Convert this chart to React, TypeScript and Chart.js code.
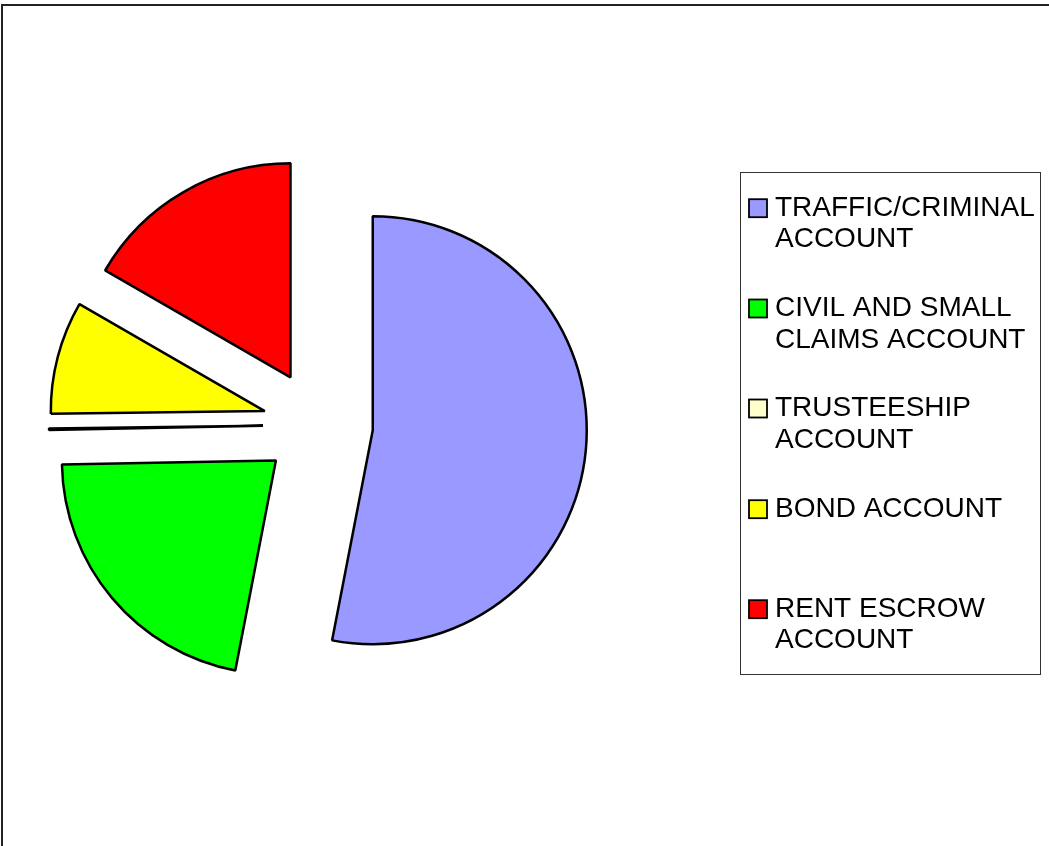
import React, { useEffect, useRef } from "react";
import { Chart, registerables } from "chart.js";

Chart.register(...registerables);

const categories: string[][] = [
  ["TRAFFIC/CRIMINAL", "ACCOUNT"],
  ["CIVIL AND SMALL", "CLAIMS ACCOUNT"],
  ["TRUSTEESHIP", "ACCOUNT"],
  ["BOND ACCOUNT"],
  ["RENT ESCROW", "ACCOUNT"],
];
const shares: number[] = [53.04, 21.66, 0.1, 8.53, 16.67];
const colors: string[] = ["#9999FF", "#00FF00", "#FFFFCC", "#FFFF00", "#FF0000"];

const explodePlugin = {
  id: "explode",
  beforeDatasetDraw(chart: any, args: any, opts: any) {
    const ctx = chart.ctx;
    const dist = opts.distance || 0;
    args.meta.data.forEach((arc: any) => {
      const mid = (arc.startAngle + arc.endAngle) / 2;
      ctx.save();
      ctx.translate(Math.cos(mid) * dist, Math.sin(mid) * dist);
      arc.draw(ctx);
      ctx.restore();
    });
    return false;
  },
};

const framePlugin = {
  id: "frameLegend",
  afterDraw(chart: any) {
    const ctx = chart.ctx;
    ctx.save();
    // outer frame
    ctx.strokeStyle = "#222222";
    ctx.lineWidth = 2;
    ctx.strokeRect(2, 5, 1200, 1000);
    // legend box
    ctx.strokeStyle = "#333333";
    ctx.lineWidth = 1;
    ctx.strokeRect(740.5, 172.5, 300, 502);
    const baselines = [215.7, 316, 416, 516.7, 616.7];
    ctx.font = '28px "Liberation Sans", Arial, sans-serif';
    ctx.textBaseline = "alphabetic";
    ctx.textAlign = "left";
    categories.forEach((lines, i) => {
      const b = baselines[i];
      ctx.fillStyle = colors[i];
      ctx.fillRect(749, b - 16.5, 18, 18);
      ctx.strokeStyle = "#000000";
      ctx.lineWidth = 1.8;
      ctx.strokeRect(749, b - 16.5, 18, 18);
      ctx.fillStyle = "#000000";
      lines.forEach((t, j) => {
        ctx.fillText(t, 775, b + j * 31.6);
      });
    });
    ctx.restore();
  },
};

export default function App() {
  const ref = useRef<HTMLCanvasElement>(null);
  useEffect(() => {
    if (!ref.current) return;
    const chart = new Chart(ref.current, {
      type: "pie",
      data: {
        labels: categories.map((l) => l.join(" ")),
        datasets: [
          {
            data: shares,
            backgroundColor: colors,
            borderColor: "#000000",
            borderWidth: 2.5,
          },
        ],
      },
      options: {
        responsive: false,
        animation: false,
        radius: 214,
        layout: { padding: { left: 0, right: 413, top: 4, bottom: 0 } },
        plugins: {
          legend: { display: false },
          tooltip: { enabled: false },
          explode: { distance: 55 },
        } as any,
      },
      plugins: [explodePlugin, framePlugin],
    });
    return () => chart.destroy();
  }, []);
  return (
    <div
      style={{
        position: "fixed",
        left: 0,
        top: 0,
        width: 1049,
        height: 846,
        overflow: "hidden",
        background: "#ffffff",
      }}
    >
      <canvas ref={ref} width={1049} height={846} style={{ display: "block" }} />
    </div>
  );
}
